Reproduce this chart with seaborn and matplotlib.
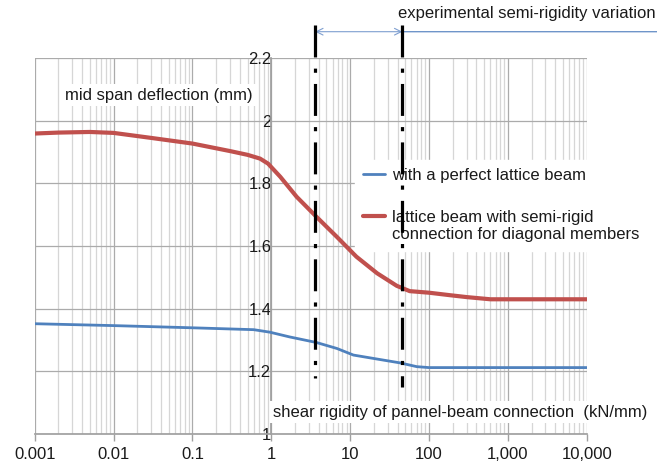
import matplotlib
matplotlib.use("Agg")
import matplotlib.pyplot as plt
import numpy as np
import pandas as pd
import seaborn as sns
from matplotlib.ticker import FixedLocator, LogLocator, NullFormatter

# values (Excel-style smoothed curves)
semi_x = [0.001, 0.002, 0.005, 0.01, 0.03, 0.1, 0.3, 0.5, 0.72, 0.91, 1.3, 2.1,
          3.75, 6.8, 12, 22, 39, 57, 100, 185, 300, 600, 1000, 10000]
semi_y = [1.959, 1.962, 1.964, 1.961, 1.945, 1.927, 1.903, 1.891, 1.879, 1.863, 1.821, 1.757,
          1.693, 1.629, 1.566, 1.513, 1.473, 1.456, 1.451, 1.443, 1.437, 1.430, 1.430, 1.430]
perfect_x = [0.001, 0.01, 0.1, 0.6, 0.96, 1.7, 3.75, 6.8, 11, 20, 43, 70, 100, 10000]
perfect_y = [1.352, 1.346, 1.339, 1.333, 1.325, 1.310, 1.292, 1.273, 1.252, 1.241, 1.227,
             1.215, 1.212, 1.212]

series_names = ["with a perfect lattice beam",
                "lattice beam with semi-rigid\nconnection for diagonal members"]
x_ticks = [0.001, 0.01, 0.1, 1, 10, 100, 1000, 10000]
x_tick_labels = ["0.001", "0.01", "0.1", "1", "10", "100", "1,000", "10,000"]
y_ticks = [1, 1.2, 1.4, 1.6, 1.8, 2, 2.2]
y_tick_labels = ["1", "1.2", "1.4", "1.6", "1.8", "2", "2.2"]

# experimental semi-rigidity range (dash-dot markers)
exp_low, exp_high = 3.6, 46
exp_low_bottom, exp_high_bottom = 1.179, 1.151
marker_top = 2.305
arrow_y = 2.284

sns.set_theme(style="white")
plt.rcParams["font.family"] = ["Liberation Sans", "DejaVu Sans"]
text_color = "#1a1a1a"

fig = plt.figure(figsize=(6.57, 4.63), dpi=100)
ax = fig.add_axes([0.0528, 0.0626, 0.8402, 0.8121])

perfect = pd.DataFrame({"x": perfect_x, "y": perfect_y})
semi = pd.DataFrame({"x": semi_x, "y": semi_y})
sns.lineplot(data=perfect, x="x", y="y", color="#4F81BD", lw=2, estimator=None,
             label=series_names[0], ax=ax, zorder=4)
sns.lineplot(data=semi, x="x", y="y", color="#C0504D", lw=3, estimator=None,
             label=series_names[1], ax=ax, zorder=4)

ax.set_xscale("log")
ax.set_xlim(0.001, 10000)
ax.set_ylim(1, 2.2)
ax.xaxis.set_major_locator(FixedLocator(x_ticks))
ax.set_xticklabels(x_tick_labels)
ax.xaxis.set_minor_locator(LogLocator(base=10, subs=np.arange(2, 10), numticks=30))
ax.xaxis.set_minor_formatter(NullFormatter())
ax.set_yticks(y_ticks)
ax.set_yticklabels(y_tick_labels)
ax.set_xlabel("")
ax.set_ylabel("")

# grid
ax.set_axisbelow(True)
ax.grid(which="major", color="#ababab", lw=0.9)
ax.grid(which="minor", axis="x", color="#d6d6d6", lw=0.9)

# y axis crosses at x = 1 like in Excel
ax.spines["left"].set_position(("data", 1))
ax.spines["left"].set_color("#a0a0a0")
ax.spines["bottom"].set_color("#a0a0a0")
ax.spines["top"].set_visible(False)
ax.spines["right"].set_visible(False)
ax.tick_params(axis="y", length=0, pad=0, labelsize=12, labelcolor=text_color)
ax.tick_params(axis="x", which="major", bottom=True, length=5, width=1, color="#a0a0a0",
               pad=4, labelsize=12, labelcolor=text_color)
ax.tick_params(axis="x", which="minor", length=0)

# axis titles inside the plot with white boxes
box = dict(facecolor="white", edgecolor="none", pad=2.5)
ax.text(0.0549, 0.9016, "mid span deflection (mm)", transform=ax.transAxes, fontsize=12,
        color=text_color, va="center", ha="left", bbox=box, zorder=3)
ax.text(0.432, 0.0585, "shear rigidity of pannel-beam connection  (kN/mm)", transform=ax.transAxes,
        fontsize=12, color=text_color, va="center", ha="left", bbox=box, zorder=3)

# dash-dot markers for the experimental range
for xv, yb in [(exp_low, exp_low_bottom), (exp_high, exp_high_bottom)]:
    ax.plot([xv, xv], [marker_top, yb], color="black", lw=2.3, dashes=(10, 3.5, 1.3, 3.5),
            dash_capstyle="butt", solid_capstyle="butt", clip_on=False, zorder=6)

ax.annotate("", xy=(exp_low, arrow_y), xytext=(exp_high, arrow_y), annotation_clip=False,
            arrowprops=dict(arrowstyle="<->", color="#7f9fd0", lw=0.8, shrinkA=0, shrinkB=0))
ax.annotate("", xy=(exp_high, arrow_y), xycoords="data", xytext=(1.2, arrow_y),
            textcoords=("axes fraction", "data"), annotation_clip=False,
            arrowprops=dict(arrowstyle="-", color="#6f95c9", lw=1.0, shrinkA=0, shrinkB=0))
ax.text(0.658, 1.1197, "experimental semi-rigidity variation", transform=ax.transAxes,
        fontsize=12, color=text_color, va="center", ha="left")

leg = ax.legend(loc="upper left", bbox_to_anchor=(0.58, 0.729), frameon=True,
                facecolor="white", edgecolor="white", framealpha=1, fancybox=False,
                fontsize=12, handlelength=1.3, handletextpad=0.45, labelspacing=1.6,
                borderpad=0.5, borderaxespad=0)
for t in leg.get_texts():
    t.set_color(text_color)
# Excel puts the handle next to the first line of a wrapped label
red_handle = leg.legend_handles[1]
red_handle.set_ydata(np.asarray(red_handle.get_ydata()) + 7.5)

fig.savefig("out.png", dpi=100)
plt.close()
